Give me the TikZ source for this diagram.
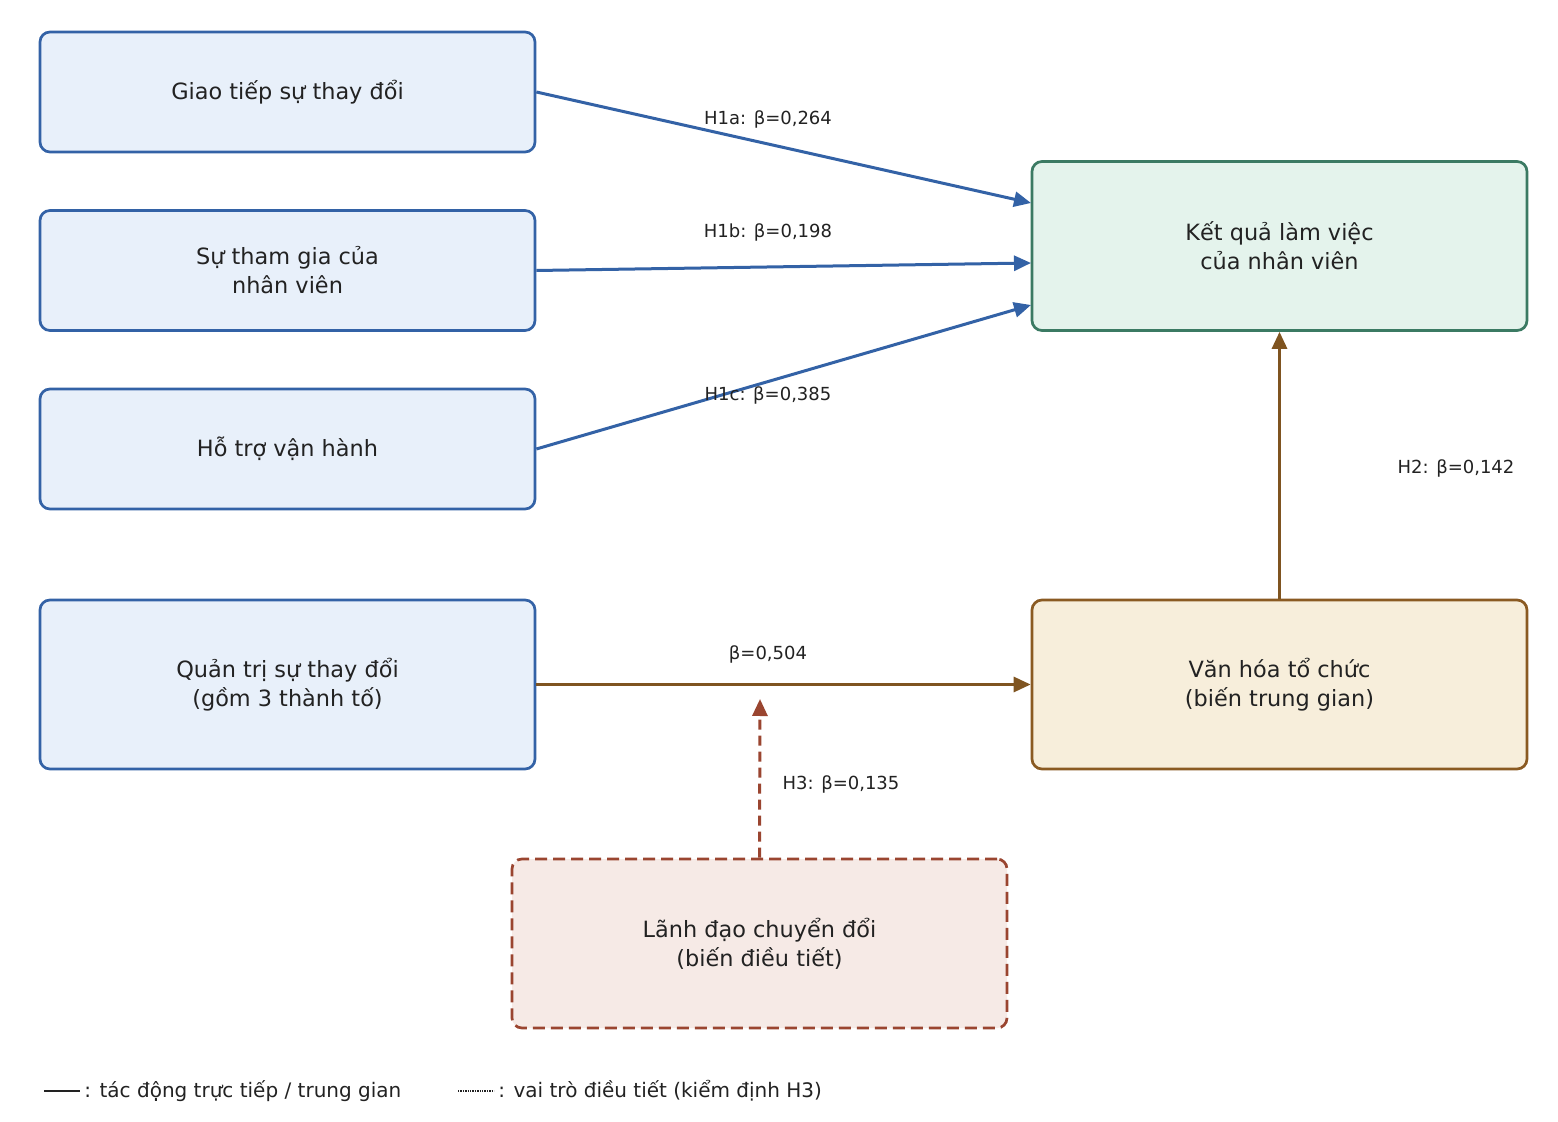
\documentclass[tikz,border=0pt]{standalone}
\usepackage{fontspec}
\setmainfont{DejaVu Sans}
\usetikzlibrary{arrows.meta}
\definecolor{bluedge}{HTML}{3362A6}
\definecolor{bluefill}{HTML}{E8F0FA}
\definecolor{greenedge}{HTML}{3B7A63}
\definecolor{greenfill}{HTML}{E4F3EC}
\definecolor{brownedge}{HTML}{8A5A22}
\definecolor{brownfill}{HTML}{F7EEDB}
\definecolor{rededge}{HTML}{9A4530}
\definecolor{redfill}{HTML}{F6EAE6}
\definecolor{brownarrow}{HTML}{7F5420}
\definecolor{labeltext}{HTML}{222222}
\begin{document}
\begin{tikzpicture}[x=0.5pt,y=-0.5pt,
  box/.style={draw, rounded corners=5pt, line width=1.35pt, minimum width=247.5pt,
    align=center, inner sep=0pt, text=labeltext, font=\fontsize{11.2}{14.5}\selectfont},
  smallbox/.style={box, minimum height=60pt},
  bigbox/.style={box, minimum height=84.5pt},
  indep/.style={draw=bluedge, fill=bluefill},
  lbl/.style={font=\fontsize{9}{11}\selectfont, text=labeltext, inner sep=0pt},
  barrow/.style={draw=bluedge, line width=1.5pt, -{Triangle[length=8.5pt,width=7.5pt]}},
  brarrow/.style={draw=brownarrow, line width=1.5pt, -{Triangle[length=8.5pt,width=7.5pt]}},
  darrow/.style={draw=rededge, line width=1.5pt, dash pattern=on 5pt off 3pt, -{Triangle[length=8.5pt,width=7.5pt]}}
]
\useasboundingbox (0,0) rectangle (1558,1122);
\fill[white] (0,0) rectangle (1558,1122);

\node[smallbox, indep] (b1) at (287.5,92) {Giao tiếp sự thay đổi};
\node[smallbox, indep] (b2) at (287.5,270.5) {Sự tham gia của\\nhân viên};
\node[smallbox, indep] (b3) at (287.5,449) {Hỗ trợ vận hành};
\node[bigbox, indep] (b4) at (287.5,684.5) {Quản trị sự thay đổi\\(gồm 3 thành tố)};
\node[bigbox, draw=greenedge, fill=greenfill] (out) at (1279.5,246) {Kết quả làm việc\\của nhân viên};
\node[bigbox, draw=brownedge, fill=brownfill] (cult) at (1279.5,684.5) {Văn hóa tổ chức\\(biến trung gian)};
\node[bigbox, draw=rededge, fill=redfill, dash pattern=on 6pt off 3pt] (lead) at (759.5,943.5) {Lãnh đạo chuyển đổi\\(biến điều tiết)};

\coordinate (t1) at (1031,203);
\coordinate (t2) at (1031,263);
\coordinate (t3) at (1031,305);
\coordinate (t5) at (760,699);

\draw[barrow] (b1.east) -- (t1);
\draw[barrow] (b2.east) -- (t2);
\draw[barrow] (b3.east) -- (t3);
\draw[brarrow] (b4.east) -- (cult.west);
\draw[brarrow] (cult.north) -- (out.south);
\draw[darrow] (lead.north) -- (t5);

\node[lbl] (l1) at (768,119) {H1a: β=0,264};
\node[lbl] (l2) at (768,232) {H1b: β=0,198};
\node[lbl] (l3) at (768,395) {H1c: β=0,385};
\node[lbl] (l4) at (1456,468) {H2: β=0,142};
\node[lbl] (l5) at (768,654) {β=0,504};
\node[lbl] (l6) at (841,784) {H3: β=0,135};

\draw[line width=0.9pt, labeltext] (44,1091) -- (80,1091);
\node[lbl, anchor=west, font=\fontsize{10}{12}\selectfont] (leg1) at (84,1091) {: tác động trực tiếp / trung gian};
\draw[line width=0.8pt, labeltext, dash pattern=on 0.7pt off 0.5pt] (458,1091) -- (494,1091);
\node[lbl, anchor=west, font=\fontsize{10}{12}\selectfont] (leg2) at (498,1091) {: vai trò điều tiết (kiểm định H3)};
\end{tikzpicture}
\end{document}
